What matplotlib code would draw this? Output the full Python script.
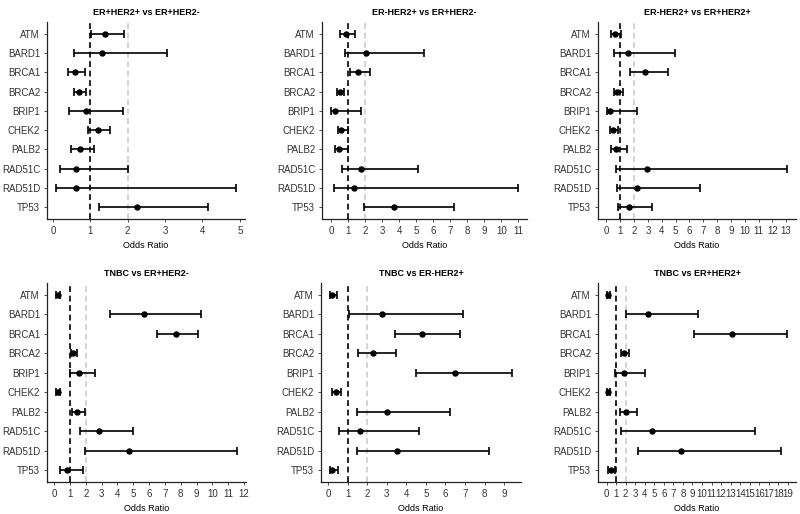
import numpy as np
import matplotlib
matplotlib.use('Agg')
import matplotlib.pyplot as plt

plt.rcParams['font.family'] = ['Liberation Sans', 'DejaVu Sans']

genes = ['ATM', 'BARD1', 'BRCA1', 'BRCA2', 'BRIP1', 'CHEK2', 'PALB2', 'RAD51C', 'RAD51D', 'TP53']

# ER+HER2+ vs ER+HER2-
p1_or = [1.40, 1.31, 0.59, 0.70, 0.88, 1.20, 0.73, 0.62, 0.62, 2.26]
p1_lo = [1.03, 0.57, 0.41, 0.55, 0.42, 0.95, 0.49, 0.20, 0.08, 1.24]
p1_hi = [1.90, 3.06, 0.85, 0.88, 1.87, 1.52, 1.09, 2.02, 4.90, 4.15]

# ER-HER2+ vs ER+HER2-
p2_or = [0.85, 2.05, 1.58, 0.49, 0.22, 0.58, 0.46, 1.74, 1.34, 3.68]
p2_lo = [0.50, 0.79, 1.11, 0.34, 0.00, 0.38, 0.23, 0.61, 0.16, 1.90]
p2_hi = [1.39, 5.44, 2.28, 0.75, 1.74, 0.96, 0.99, 5.08, 10.97, 7.22]

# ER-HER2+ vs ER+HER2+
p3_or = [0.59, 1.57, 2.76, 0.76, 0.26, 0.48, 0.69, 2.90, 2.19, 1.64]
p3_lo = [0.33, 0.52, 1.73, 0.52, 0.04, 0.28, 0.33, 0.67, 0.76, 0.86]
p3_hi = [1.05, 4.94, 4.44, 1.21, 2.19, 0.81, 1.50, 13.06, 6.79, 3.28]

# TNBC vs ER+HER2-
p4_or = [0.23, 5.68, 7.68, 1.21, 1.54, 0.23, 1.46, 2.82, 4.76, 0.81]
p4_lo = [0.12, 3.51, 6.49, 1.04, 0.98, 0.13, 1.13, 1.63, 1.96, 0.40]
p4_hi = [0.35, 9.27, 9.10, 1.44, 2.57, 0.35, 1.92, 4.97, 11.55, 1.82]

# TNBC vs ER-HER2+
p5_or = [0.22, 2.76, 4.80, 2.30, 6.51, 0.39, 3.01, 1.62, 3.50, 0.22]
p5_lo = [0.10, 1.09, 3.44, 1.53, 4.51, 0.20, 1.48, 0.58, 1.48, 0.10]
p5_hi = [0.46, 6.90, 6.75, 3.49, 9.40, 0.68, 6.21, 4.63, 8.25, 0.51]

# TNBC vs ER+HER2+
p6_or = [0.18, 4.35, 13.10, 1.82, 1.85, 0.20, 2.09, 4.73, 7.77, 0.51]
p6_lo = [0.05, 2.05, 9.20, 1.47, 0.89, 0.08, 1.40, 1.51, 3.32, 0.20]
p6_hi = [0.32, 9.55, 18.90, 2.40, 4.04, 0.34, 3.18, 15.55, 18.25, 0.86]

titles = ['ER+HER2+ vs ER+HER2-', 'ER-HER2+ vs ER+HER2-', 'ER-HER2+ vs ER+HER2+',
          'TNBC vs ER+HER2-', 'TNBC vs ER-HER2+', 'TNBC vs ER+HER2+']
panels = [(p1_or, p1_lo, p1_hi), (p2_or, p2_lo, p2_hi), (p3_or, p3_lo, p3_hi),
          (p4_or, p4_lo, p4_hi), (p5_or, p5_lo, p5_hi), (p6_or, p6_lo, p6_hi)]

W, H = 800, 514
# axes boxes in pixels: left, right, top, bottom
boxes = [(47, 245, 22, 219), (322, 527, 22, 219), (598, 796, 22, 219),
         (47, 246, 283, 482), (321, 521, 283, 482), (598, 796, 283, 482)]

fig = plt.figure(figsize=(W / 100, H / 100), dpi=100)
fs = 6.5
for (l, r, t, b), title, (orr, lo, hi) in zip(boxes, titles, panels):
    ax = fig.add_axes([l / W, 1 - b / H, (r - l) / W, (b - t) / H])
    y = np.arange(len(genes))
    orr, lo, hi = np.array(orr), np.array(lo), np.array(hi)
    ax.axvline(1, color='black', linestyle=(0, (3.5, 2.2)), linewidth=1.2, zorder=1)
    ax.axvline(2, color='#cccccc', linestyle=(0, (3.5, 2.2)), linewidth=1.2, zorder=1)
    ax.errorbar(orr, y, xerr=[orr - lo, hi - orr], fmt='o', color='black',
                markersize=3.6, elinewidth=1.2, capsize=3, capthick=1.2, zorder=3)
    xmin, xmax = lo.min(), hi.max()
    pad = 0.05 * (xmax - xmin)
    ax.set_xlim(xmin - pad, xmax + pad)
    ax.set_xticks(np.arange(0, int(np.floor(xmax + pad)) + 1))
    ax.set_ylim(len(genes) - 0.4, -0.6)
    ax.set_yticks(y)
    ax.set_yticklabels(genes)
    ax.spines['top'].set_visible(False)
    ax.spines['right'].set_visible(False)
    for s in ['left', 'bottom']:
        ax.spines[s].set_linewidth(0.9)
        ax.spines[s].set_color('#222222')
    ax.tick_params(labelsize=7, colors='#4d4d4d', length=2.5, width=0.7, pad=2.5)
    ax.tick_params(labelcolor='#333333')
    ax.set_xlabel('Odds Ratio', fontsize=fs, labelpad=3.5)
    ax.set_title(title, fontsize=fs, fontweight='bold', pad=5)

fig.savefig('out.png', dpi=100)
